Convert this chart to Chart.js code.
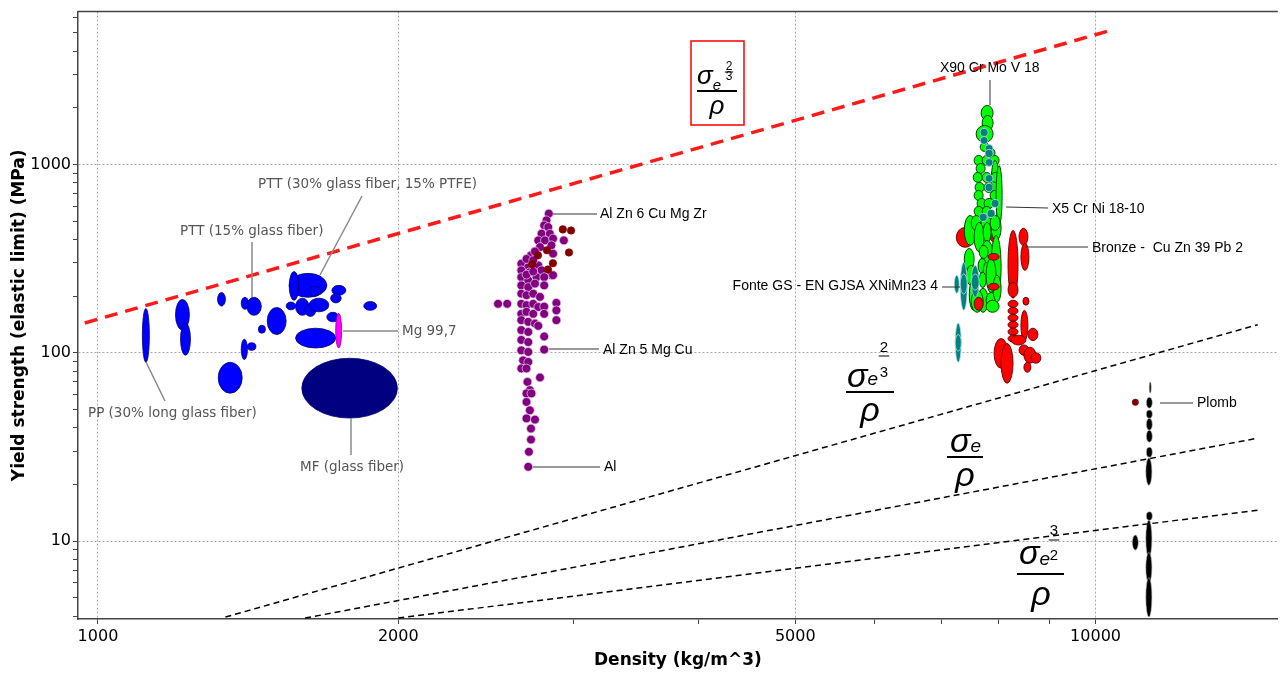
<!DOCTYPE html>
<html>
<head>
<meta charset="utf-8">
<script src="https://cdn.jsdelivr.net/npm/chart.js@4.4.1/dist/chart.umd.min.js"></script>
<style>
  body { margin: 0; background: #fff; overflow: hidden; }
  #wrap { width: 1283px; height: 673px; position: relative; }
</style>
</head>
<body>
<div id="wrap"><canvas id="ashby"></canvas></div>
<script>
// Ashby map: yield strength vs density (log/log)
// ellipses: [rhoMin, rhoMax, sigmaMin, sigmaMax]

const polymerBlue = [
  [1108, 1126, 89, 172], [1196, 1235, 132, 192], [1210, 1238, 97, 144],
  [1318, 1342, 177, 209], [1392, 1416, 170, 197], [1410, 1458, 158, 197],
  [1448, 1472, 127, 140], [1478, 1544, 125, 174], [1392, 1412, 92, 118],
  [1412, 1440, 103, 113], [1320, 1395, 61, 89],
  [1555, 1696, 197, 264], [1555, 1590, 190, 270], [1628, 1673, 200, 225],
  [1716, 1772, 202, 228], [1711, 1753, 184, 206], [1544, 1578, 169, 186],
  [1578, 1628, 158, 195], [1612, 1654, 156, 182], [1628, 1704, 165, 195],
  [1847, 1903, 168, 187], [1696, 1744, 146, 164], [1578, 1731, 106, 135]
];
const polymerMF = [[1601, 1996, 45, 93.5]];
const magnesium = [[1731, 1755, 106, 162]];

// aluminium alloys: [rho, sigma]
const aluminium = [
  [2831, 548], [2816, 505], [2801, 475], [2827, 465], [2784, 429], [2838, 429],
  [2763, 395], [2806, 395], [2859, 404], [2774, 364], [2848, 372], [2717, 329],
  [2859, 336], [2742, 345], [2657, 297], [2700, 285], [2763, 291], [2657, 274],
  [2710, 268], [2784, 274], [2848, 258], [2657, 252], [2700, 243], [2752, 252],
  [2801, 252], [2859, 258], [2657, 228], [2700, 223], [2742, 233], [2801, 228],
  [2657, 206], [2689, 202], [2731, 206], [2774, 198], [2657, 182], [2689, 179],
  [2731, 182], [2763, 175], [2801, 176], [2881, 184], [2518, 182], [2572, 182],
  [2657, 161], [2689, 165], [2731, 161], [2801, 161], [2881, 168], [2657, 149],
  [2700, 146], [2742, 143], [2763, 139], [2881, 149], [2657, 132], [2700, 129],
  [2801, 122], [2657, 117], [2700, 114], [2657, 103], [2700, 101], [2801, 104],
  [2668, 91.2], [2700, 89.4], [2657, 82.5], [2689, 82.5], [2774, 73.9], [2695, 70],
  [2710, 63.3], [2689, 60.8], [2720, 60.8], [2689, 54.8], [2710, 49.5], [2689, 44.8],
  [2742, 44.2], [2717, 39.6], [2717, 34.6], [2704, 29.8], [2700, 24.8],
  [2931, 395], [2689, 315], [2731, 310], [2689, 260], [2731, 270]
];
const alDarkRed = [
  [2924, 452], [2980, 446], [2966, 341], [2761, 329], [2819, 350],
  [2725, 295], [2858, 299], [2826, 277]
];

const steelGreen = [
  [7679, 7894, 1712, 2056], [7697, 7894, 1514, 1820], [7591, 7894, 1309, 1612],
  [7662, 7822, 1172, 1309], [7768, 7930, 1090, 1217],
  [7556, 7715, 988, 1117], [7697, 7858, 988, 1117], [7840, 8004, 988, 1117],
  [7591, 7750, 896, 1012], [7858, 8004, 600, 1050],
  [7540, 7697, 803, 907], [7697, 7858, 803, 907], [7858, 8004, 803, 907],
  [7573, 7732, 710, 803], [7732, 7894, 710, 803],
  [7556, 7715, 644, 728], [7840, 8004, 644, 728],
  [7608, 7768, 585, 660], [7732, 7912, 585, 660],
  [7556, 7715, 530, 599], [7697, 7858, 530, 599], [7948, 8060, 475, 988],
  [7386, 7591, 372, 536], [7858, 8041, 395, 536],
  [7505, 7679, 446, 536], [7679, 7858, 446, 536], [7840, 8022, 446, 536],
  [7386, 7556, 274, 358], [7556, 7732, 344, 492], [7715, 7858, 386, 492],
  [7679, 7894, 274, 395], [7644, 7804, 317, 372], [7626, 7768, 264, 317],
  [7715, 7822, 237, 302], [7858, 8041, 195, 420], [7768, 7948, 209, 317],
  [7420, 7591, 228, 291], [7471, 7626, 168, 246], [7626, 7804, 164, 220],
  [7505, 7715, 164, 215], [7768, 7948, 172, 209], [7768, 8004, 164, 190],
  [7894, 8041, 186, 258], [7644, 7768, 222, 268]
];
const steelTeal = [
  [7662, 7804, 1408, 1553], [7662, 7804, 1277, 1408], [7750, 7894, 1160, 1277],
  [7750, 7894, 1089, 1201], [7750, 7894, 976, 1076], [7750, 7894, 803, 885],
  [7750, 7894, 719, 793], [7858, 8004, 591, 652], [7644, 7786, 498, 550],
  [7786, 7930, 523, 577]
];
const castTeal = [
  [7217, 7301, 207, 258], [7318, 7437, 168, 302], [7318, 7437, 205, 262],
  [7505, 7644, 197, 291], [7505, 7644, 215, 262], [7233, 7335, 89, 144],
  [7233, 7335, 102, 125]
];
const steelRedBack = [
  [7251, 7556, 363, 463], [7420, 7505, 274, 337], [7822, 8004, 386, 492]
];
const steelRedFront = [
  [7804, 8004, 310, 337], [7804, 8004, 215, 234], [7556, 7715, 168, 197]
];
const bronzeRed = [
  [8171, 8362, 195, 446], [8171, 8362, 197, 237], [8381, 8555, 372, 458],
  [8418, 8575, 274, 381], [8171, 8362, 174, 190], [8171, 8362, 160, 174],
  [8171, 8362, 147, 160], [8171, 8362, 135, 147], [8171, 8362, 124, 135],
  [8171, 8362, 114, 124], [8457, 8575, 179, 197], [8418, 8555, 116, 168],
  [8555, 8755, 116, 135], [8228, 8515, 110, 124], [8381, 8575, 97, 110],
  [7912, 8171, 82.8, 119], [8041, 8266, 68.9, 112], [8476, 8715, 88, 107],
  [8614, 8815, 88, 100], [8476, 8614, 78.8, 89]
];
const leadBlack = [
  [11330, 11360, 61, 70], [11245, 11400, 50.8, 58.1], [11245, 11400, 44.9, 49.6],
  [11245, 11400, 38.8, 44.9], [11245, 11400, 33.5, 38.8], [11245, 11400, 27.9, 31.5],
  [11230, 11390, 19.8, 27.6], [11245, 11400, 12.9, 14.3], [11230, 11390, 8.2, 12.9],
  [11230, 11390, 6.0, 8.7], [11230, 11390, 3.95, 6.4], [10886, 11037, 8.96, 10.76]
];
const leadDarkRed = [[10963, 54.6]];

// guide lines (endpoints)
const guideRed = [[970, 144], [10420, 5200]];
const guideA = [[1342, 3.95], [14540, 141]];
const guideB = [[1613, 3.9], [14540, 35.2]];
const guideC = [[2000, 3.9], [14540, 14.6]];

const xTickVals = [1000, 2000, 3000, 4000, 5000, 6000, 7000, 8000, 9000, 10000];
const xLabelVals = [1000, 2000, 5000, 10000];
const yTickVals = [4, 5, 6, 7, 8, 9, 10, 20, 30, 40, 50, 60, 70, 80, 90,
  100, 200, 300, 400, 500, 600, 700, 800, 900, 1000, 2000, 3000, 4000, 5000, 6000];
const yLabelVals = [10, 100, 1000];

const toXY = arr => arr.map(p => ({ x: p[0], y: p[1] }));

const ellipseGroups = [
  { data: polymerBlue, fill: '#0000ff', stroke: '#00006a', lw: 0.8 },
  { data: polymerMF, fill: '#000080', stroke: '#000070', lw: 0.8 },
  { data: magnesium, fill: '#ff00ff', stroke: '#8a008a', lw: 0.8 },
  { data: steelRedBack, fill: '#ff0000', stroke: '#5a0000', lw: 0.9 },
  { data: steelGreen, fill: '#00ff00', stroke: '#004000', lw: 1 },
  { data: castTeal, fill: '#008080', stroke: '#b8e0e0', lw: 0.8 },
  { data: steelTeal, fill: '#008080', stroke: '#b8e0e0', lw: 0.8 },
  { data: steelRedFront, fill: '#ff0000', stroke: '#5a0000', lw: 0.9 },
  { data: bronzeRed, fill: '#ff0000', stroke: '#5a0000', lw: 0.9 },
  { data: leadBlack, fill: '#000000', stroke: '#bbbbbb', lw: 0.6 }
];

const ellipsePlugin = {
  id: 'ellipses',
  beforeDatasetsDraw(chart) {
    const { ctx, chartArea: a, scales: { x, y } } = chart;
    ctx.save();
    ctx.beginPath();
    ctx.rect(a.left, a.top, a.right - a.left, a.bottom - a.top);
    ctx.clip();
    ellipseGroups.forEach(g => {
      ctx.fillStyle = g.fill;
      ctx.strokeStyle = g.stroke;
      ctx.lineWidth = g.lw;
      g.data.forEach(([r0, r1, s0, s1]) => {
        const x0 = x.getPixelForValue(r0), x1 = x.getPixelForValue(r1);
        const y0 = y.getPixelForValue(s0), y1 = y.getPixelForValue(s1);
        ctx.beginPath();
        ctx.ellipse((x0 + x1) / 2, (y0 + y1) / 2,
          Math.max(Math.abs(x1 - x0) / 2, 1), Math.max(Math.abs(y1 - y0) / 2, 1), 0, 0, Math.PI * 2);
        ctx.fill();
        ctx.stroke();
      });
    });
    ctx.restore();
  }
};

// text notes with leader lines (pixel positions)
const notes = [
  { t: 'PTT (30% glass fiber, 15% PTFE)', x: 258, y: 184, grey: true, line: [362, 196, 320, 275] },
  { t: 'PTT (15% glass fiber)', x: 180, y: 231, grey: true, line: [252, 242, 252, 297] },
  { t: 'Mg 99,7', x: 402, y: 331, grey: true, line: [343, 331, 398, 331] },
  { t: 'PP (30% long glass fiber)', x: 88, y: 413, grey: true, line: [146, 362, 165, 401] },
  { t: 'MF (glass fiber)', x: 300, y: 467, grey: true, line: [351, 418, 351, 455] },
  { t: 'Al Zn 6 Cu Mg Zr', x: 600, y: 214, line: [553, 214, 597, 214] },
  { t: 'Al Zn 5 Mg Cu', x: 603, y: 350, line: [549, 349, 599, 349] },
  { t: 'Al', x: 604, y: 467, line: [533, 467, 600, 467] },
  { t: 'X90 Cr Mo V 18', x: 940, y: 68, line: [990, 80, 990, 105] },
  { t: 'X5 Cr Ni 18-10', x: 1052, y: 209, line: [1006, 207, 1048, 208] },
  { t: 'Bronze -  Cu Zn 39 Pb 2', x: 1092, y: 248, line: [1025, 247, 1088, 247] },
  { t: 'Fonte GS - EN GJSA XNiMn23 4', x: 938, y: 286, right: true, line: [942, 287, 960, 287] },
  { t: 'Plomb', x: 1197, y: 403, line: [1160, 403, 1193, 403] }
];

// performance index labels  sigma_e^(a/b) / rho
const fracs = [
  { box: [691, 41, 53, 84], bar: [697, 737, 91], sig: [697, 84, 26], e: [90, 15],
    exp: ['2', '3', 729, 70, 72, 80, 12], rho: [717, 114, 26] },
  { bar: [846, 894, 392], sig: [847, 387, 34], e: [385, 19],
    exp: ['2', '3', 884, 352, 356, 377, 15], rho: [870, 421, 34] },
  { bar: [947, 983, 457], sig: [950, 452, 34], e: [452, 19], rho: [965, 486, 34] },
  { bar: [1017, 1064, 574], sig: [1019, 564, 34], e: [565, 19],
    exp: ['3', '2', 1054, 535, 540, 560, 15], rho: [1041, 605, 34] }
];

const notesPlugin = {
  id: 'notes',
  afterDatasetsDraw(chart) {
    const { ctx, chartArea: a } = chart;
    ctx.save();
    // top frame line
    ctx.strokeStyle = '#444';
    ctx.lineWidth = 1.5;
    ctx.beginPath();
    ctx.moveTo(a.left, a.top);
    ctx.lineTo(a.right, a.top);
    ctx.stroke();

    notes.forEach(n => {
      ctx.strokeStyle = n.grey ? '#8a8a8a' : '#333';
      ctx.lineWidth = n.grey ? 1.5 : 1;
      ctx.beginPath();
      ctx.moveTo(n.line[0], n.line[1]);
      ctx.lineTo(n.line[2], n.line[3]);
      ctx.stroke();
      ctx.fillStyle = n.grey ? '#555' : '#000';
      ctx.font = n.grey ? '13.5px "DejaVu Sans"' : '14px "Liberation Sans"';
      ctx.textAlign = n.right ? 'right' : 'left';
      ctx.textBaseline = 'middle';
      ctx.fillText(n.t, n.x, n.y);
    });

    fracs.forEach(f => {
      ctx.fillStyle = '#000';
      ctx.strokeStyle = '#000';
      if (f.box) {
        ctx.strokeStyle = '#ff0000';
        ctx.lineWidth = 1.5;
        ctx.strokeRect(f.box[0], f.box[1], f.box[2], f.box[3]);
        ctx.strokeStyle = '#000';
      }
      ctx.textBaseline = 'alphabetic';
      ctx.textAlign = 'left';
      ctx.font = `italic ${f.sig[2]}px "Liberation Sans"`;
      ctx.fillText('σ', f.sig[0], f.sig[1]);
      const ex = f.sig[0] + ctx.measureText('σ').width;
      ctx.font = `italic ${f.e[1]}px "Liberation Sans"`;
      ctx.fillText('e', ex, f.e[0]);
      if (f.exp) {
        const [top, bot, cx, ty, by, bty, sz] = f.exp;
        ctx.font = `${sz}px "Liberation Sans"`;
        ctx.textAlign = 'center';
        ctx.fillText(top, cx, ty);
        ctx.fillText(bot, cx, bty);
        ctx.lineWidth = 1;
        ctx.beginPath();
        ctx.moveTo(cx - sz * 0.35, by);
        ctx.lineTo(cx + sz * 0.35, by);
        ctx.stroke();
      }
      ctx.lineWidth = 2;
      ctx.beginPath();
      ctx.moveTo(f.bar[0], f.bar[2]);
      ctx.lineTo(f.bar[1], f.bar[2]);
      ctx.stroke();
      ctx.textAlign = 'center';
      ctx.font = `italic ${f.rho[2]}px "Liberation Sans"`;
      ctx.fillText('ρ', f.rho[0], f.rho[1]);
    });
    ctx.restore();
  }
};

const guideStyle = (pts, color, width, dash) => ({
  data: toXY(pts),
  showLine: true,
  borderColor: color,
  borderWidth: width,
  borderDash: dash,
  pointRadius: 0,
  order: 0
});

const ctx = document.getElementById('ashby').getContext('2d');
new Chart(ctx, {
  type: 'scatter',
  data: {
    datasets: [
      guideStyle(guideRed, '#ff1a1a', 3.5, [13, 8]),
      guideStyle(guideA, '#000', 1.5, [6, 4]),
      guideStyle(guideB, '#000', 1.5, [6, 4]),
      guideStyle(guideC, '#000', 1.5, [6, 4]),
      {
        data: toXY(aluminium),
        pointRadius: 4.4,
        pointBackgroundColor: '#800080',
        pointBorderColor: 'rgba(235,205,235,0.9)',
        pointBorderWidth: 0.8,
        order: 2
      },
      {
        data: toXY(alDarkRed),
        pointRadius: 3.8,
        pointBackgroundColor: '#800000',
        pointBorderColor: '#800000',
        pointBorderWidth: 0.5,
        order: 1
      },
      {
        data: toXY(leadDarkRed),
        pointRadius: 3.2,
        pointBackgroundColor: '#800000',
        pointBorderColor: '#800000',
        pointBorderWidth: 0.5,
        order: 1
      }
    ]
  },
  options: {
    responsive: true,
    maintainAspectRatio: false,
    animation: false,
    layout: { padding: { top: 11, right: 0, left: 0, bottom: 0 } },
    plugins: {
      legend: { display: false },
      tooltip: { enabled: false }
    },
    scales: {
      x: {
        type: 'logarithmic',
        min: 955,
        max: 15230,
        afterBuildTicks: axis => { axis.ticks = xTickVals.map(v => ({ value: v })); },
        afterFit: scale => { scale.height = 54; scale.paddingRight = 0; },
        border: { display: true, color: '#444', width: 1.5, dash: [2, 2] },
        grid: {
          color: c => xLabelVals.includes(c.tick && c.tick.value) ? '#a8a8a8' : 'rgba(0,0,0,0)',
          tickColor: '#444',
          tickLength: 5,
          lineWidth: 1
        },
        ticks: {
          autoSkip: false,
          maxRotation: 0,
          padding: 3,
          color: '#000',
          font: { family: 'DejaVu Sans', size: 16 },
          callback: v => xLabelVals.includes(v) ? String(v) : ''
        },
        title: {
          display: true,
          text: 'Density (kg/m^3)',
          color: '#000',
          font: { family: 'DejaVu Sans', size: 17, weight: 'bold' },
          padding: { top: 0, bottom: 2 }
        }
      },
      y: {
        type: 'logarithmic',
        min: 3.857,
        max: 6481,
        afterBuildTicks: axis => { axis.ticks = yTickVals.map(v => ({ value: v })); },
        afterFit: scale => { scale.width = 78; },
        border: { display: true, color: '#444', width: 1.5, dash: [2, 2] },
        grid: {
          color: c => yLabelVals.includes(c.tick && c.tick.value) ? '#a8a8a8' : 'rgba(0,0,0,0)',
          tickColor: '#444',
          tickLength: 5,
          lineWidth: 1
        },
        ticks: {
          autoSkip: false,
          padding: 2,
          color: '#000',
          font: { family: 'DejaVu Sans', size: 16 },
          callback: v => yLabelVals.includes(v) ? String(v) : ''
        },
        title: {
          display: true,
          text: 'Yield strength (elastic limit) (MPa)',
          color: '#000',
          font: { family: 'DejaVu Sans', size: 17, weight: 'bold' },
          padding: { top: 9, bottom: 0 }
        }
      }
    }
  },
  plugins: [ellipsePlugin, notesPlugin]
});
</script>
</body>
</html>
